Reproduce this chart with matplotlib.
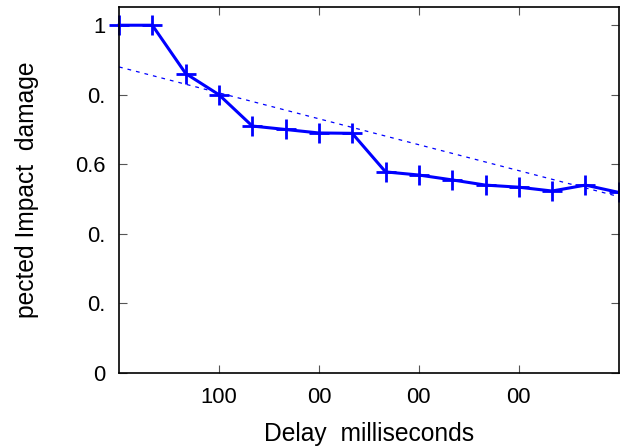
import matplotlib
matplotlib.use("Agg")
import matplotlib.pyplot as plt

plt.rcParams['font.family'] = ['Liberation Sans', 'DejaVu Sans']

# delay (ms) and expected impact damage
delay = [0, 33.3, 66.7, 100, 133.3, 166.7, 200, 233.3, 266.7, 300,
         333.3, 366.7, 400, 433.3, 466.7, 500]
damage = [1.0, 1.0, 0.861, 0.800, 0.710, 0.700, 0.690, 0.689, 0.578, 0.569,
          0.555, 0.540, 0.534, 0.523, 0.540, 0.519]

# trend line end points
trend_x = [0, 500]
trend_y = [0.88, 0.507]

xticks = [100, 200, 300, 400]
xticklabels = ['100', '00', '00', '00']
yticks = [0, 0.2, 0.4, 0.6, 0.8, 1.0]
yticklabels = ['0', '0.', '0.', '0.6', '0.', '1']

fig = plt.figure(figsize=(6.2, 4.47), dpi=100)
ax = fig.add_axes([0.192, 0.166, 0.806, 0.818])

ax.plot(trend_x, trend_y, ls=(0, (3, 4)), lw=0.9, c='#0000ff', zorder=1)
ax.plot(delay, damage, c='#0000ff', lw=2.2, marker='+', ms=14, mew=2,
        clip_on=False, zorder=2)

ax.set_xlim(0, 500)
ax.set_ylim(0, 1.052)
ax.set_xticks(xticks)
ax.set_xticklabels(xticklabels)
ax.set_yticks(yticks)
ax.set_yticklabels(yticklabels)

ax.tick_params(direction='in', length=6, width=0.8, color='#555555',
               top=True, right=True, labelsize=15.8, pad=10)
for s in ax.spines.values():
    s.set_linewidth(1.2)

ax.set_xlabel('Delay  milliseconds', fontsize=17.7, labelpad=10)
ax.set_ylabel('pected Impact  damage', fontsize=17.7, labelpad=26)

fig.savefig('out.png', dpi=100)
